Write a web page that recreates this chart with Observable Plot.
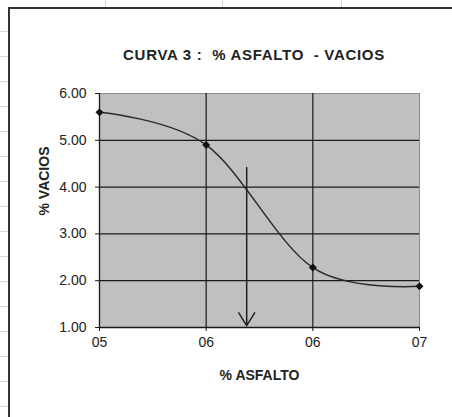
<!DOCTYPE html>
<html><head><meta charset="utf-8">
<script src="https://cdn.jsdelivr.net/npm/d3@7"></script>
<script src="https://cdn.jsdelivr.net/npm/@observablehq/plot@0.6"></script>
<style>
html,body{margin:0;padding:0;background:#fff;font-family:"Liberation Sans",Arial,sans-serif;overflow:hidden;}
#sheetLeft{position:absolute;left:0;top:7px;width:8px;height:410px;background:repeating-linear-gradient(to bottom,transparent 0,transparent 24px,#d6d6d6 24px,#d6d6d6 25px);}
.vline{position:absolute;top:0;width:1px;height:7px;background:#d6d6d6;}
#topLine{position:absolute;left:8px;top:7px;width:444px;height:2px;background:#333;}
#leftLine{position:absolute;left:8px;top:7px;width:2px;height:410px;background:#333;}
#title{position:absolute;left:104px;top:47px;width:300px;text-align:center;font-weight:bold;font-size:15px;line-height:15px;letter-spacing:0.7px;color:#222;white-space:pre;}
#chart{position:absolute;left:0;top:80px;width:452px;height:320px;}
</style></head>
<body>
<div id="sheetLeft"></div>
<div class="vline" style="left:105px"></div>
<div class="vline" style="left:222px"></div>
<div class="vline" style="left:341px"></div>
<div id="topLine"></div>
<div id="leftLine"></div>
<div id="title"></div>
<div id="chart"></div>
<script>
const titleText = "CURVA 3 :  % ASFALTO  - VACIOS";
const xLabel = "% ASFALTO";
const yLabel = "% VACIOS";
const asfalto = [5.0, 5.5, 6.0, 6.5];
const vacios = [5.60, 4.90, 2.28, 1.88];
const xTicks = [5.0, 5.5, 6.0, 6.5];
const xTickLabels = ["05", "06", "06", "07"];
const yTicks = [1, 2, 3, 4, 5, 6];
const yGrid = [2, 3, 4, 5];
const xGrid = [5.5, 6.0];
const arrowX = 5.69, arrowTop = 4.42, arrowBottom = 1.04;

const data = asfalto.map((x, i) => ({x, y: vacios[i]}));
const xLabelMap = new Map(xTicks.map((t, i) => [t, xTickLabels[i]]));
const dark = "#1a1a1a";

const chart = Plot.plot({
  width: 452, height: 320,
  marginTop: 13, marginBottom: 73, marginLeft: 99, marginRight: 33,
  x: {domain: [5.0, 6.5]},
  y: {domain: [1, 6]},
  style: {fontFamily: '"Liberation Sans", Arial, sans-serif', fontSize: "14px", color: "#222", background: "transparent", overflow: "visible"},
  marks: [
    Plot.frame({fill: "#c0c0c0", stroke: "#8c8c8c", strokeWidth: 1}),
    Plot.gridY(yGrid, {stroke: dark, strokeOpacity: 1, strokeWidth: 1.2}),
    Plot.gridX(xGrid, {stroke: dark, strokeOpacity: 1, strokeWidth: 1.2}),
    Plot.ruleX([5.0], {stroke: dark, strokeWidth: 1.3}),
    Plot.ruleY([1], {stroke: dark, strokeWidth: 1.3}),
    Plot.axisX(xTicks, {tickFormat: d => xLabelMap.get(d), tickSize: 4, tickPadding: 6, label: null, stroke: dark, letterSpacing: "1.2px", fill: "#222"}),
    Plot.axisY(yTicks, {tickFormat: d => d.toFixed(2), tickSize: 4, tickPadding: 9, label: null, stroke: dark, letterSpacing: "1.2px", fill: "#222"}),
    Plot.line(data, {x: "x", y: "y", curve: "cardinal", stroke: "#2a2a2a", strokeWidth: 1.5}),
    Plot.dot(data, {x: "x", y: "y", symbol: "diamond2", r: 3.6, fill: "#111", stroke: null}),
    Plot.arrow([{x: arrowX, y1: arrowTop, y2: arrowBottom}], {x1: "x", x2: "x", y1: "y1", y2: "y2", stroke: "#222", strokeWidth: 1.5, headLength: 15, headAngle: 64}),
    Plot.text([xLabel], {text: d => d, frameAnchor: "bottom", dy: 52, fontWeight: "bold", fontSize: 14, letterSpacing: "1px", fill: "#222"}),
    Plot.text([yLabel], {text: d => d, frameAnchor: "left", dx: -55, dy: 5, rotate: -90, fontWeight: "bold", fontSize: 14, letterSpacing: "1px", fill: "#222"})
  ]
});
document.getElementById("chart").appendChild(chart);
document.getElementById("title").textContent = titleText;
</script>
</body></html>
